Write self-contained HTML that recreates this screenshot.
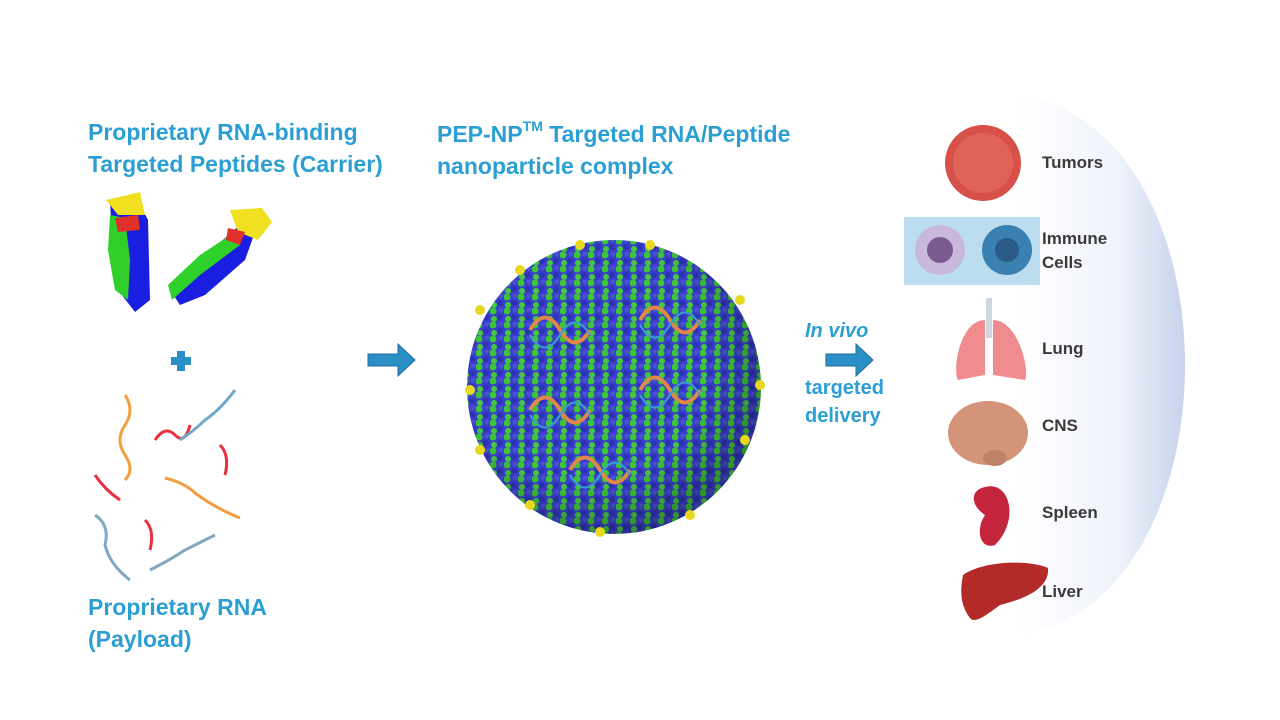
<!DOCTYPE html>
<html><head><meta charset="utf-8"><style>
body{margin:0;width:1280px;height:720px;background:#fff;position:relative;overflow:hidden;font-family:"Liberation Sans",sans-serif}
.t{position:absolute;color:#2b9fd3;font-weight:bold;font-size:23px;line-height:32px;white-space:nowrap}
.l{position:absolute;color:#3a3a3a;font-weight:bold;font-size:17px;line-height:24px}
svg{position:absolute;left:0;top:0}
sup{font-size:14px;line-height:0;position:relative;top:-2px;vertical-align:super}
</style></head><body>
<svg width="1280" height="720">
<defs>
<linearGradient id="pan" x1="0" x2="1"><stop offset="0" stop-color="#fff"/><stop offset="0.6" stop-color="#eef2fa"/><stop offset="1" stop-color="#c7d3ec"/></linearGradient>
<pattern id="dots" width="14" height="14" patternUnits="userSpaceOnUse">
<rect width="14" height="14" fill="#3a3fc8"/>
<circle cx="3" cy="3" r="3.5" fill="#3cc43a"/><circle cx="10" cy="9" r="3" fill="#2b33b8"/><circle cx="11" cy="2" r="2.5" fill="#4a50d8"/><circle cx="4" cy="11" r="3" fill="#45c840"/>
</pattern>
<radialGradient id="sh" cx="0.4" cy="0.4" r="0.6"><stop offset="0.7" stop-color="#000" stop-opacity="0"/><stop offset="1" stop-color="#000" stop-opacity="0.25"/></radialGradient>
</defs>
<path d="M1020 95 C1240 130 1240 600 1020 635 L1020 95Z" fill="url(#pan)"/>
<rect x="904" y="217" width="136" height="68" fill="#bcdcf0"/>
<g>
<path d="M110 200 L135 195 L148 220 L150 300 L135 312 L118 290 L112 240Z" fill="#1a1ee0"/>
<path d="M110 215 L125 218 L130 260 L128 300 L115 290 L108 250Z" fill="#2fd02a"/>
<path d="M106 200 L140 192 L145 215 L118 215Z" fill="#f0e020"/>
<path d="M115 218 L138 215 L140 230 L118 232Z" fill="#e0302a"/>
<path d="M170 290 L200 260 L240 225 L255 232 L245 260 L205 295 L180 305Z" fill="#1a1ee0"/>
<path d="M168 285 L200 255 L235 232 L240 245 L200 275 L172 300Z" fill="#2fd02a"/>
<path d="M230 210 L262 208 L272 222 L258 240 L238 232Z" fill="#f0e020"/>
<path d="M228 228 L245 232 L240 245 L226 240Z" fill="#e0302a"/>
</g>
<rect x="171" y="357" width="20" height="8" fill="#2a8fc6"/><rect x="177" y="351" width="8" height="20" fill="#2a8fc6"/>
<g fill="none" stroke-width="3">
<path d="M125 395 q10 15 0 30 q-10 15 0 30 q10 15 0 25" stroke="#f0a040"/>
<path d="M155 440 q10 -15 20 -5 q10 10 15 -10" stroke="#e83040"/>
<path d="M180 440 q15 -10 25 -20 q15 -10 30 -30" stroke="#70a8c8"/>
<path d="M220 445 q10 10 5 30" stroke="#e83040"/>
<path d="M95 475 q10 15 25 25" stroke="#e83040"/>
<path d="M165 478 q20 5 30 15 q20 15 45 25" stroke="#f0a040"/>
<path d="M95 515 q15 10 10 30 q5 20 25 35" stroke="#80a8c0"/>
<path d="M145 520 q10 10 5 30" stroke="#e83040"/>
<path d="M150 570 q20 -10 35 -20 q20 -10 30 -15" stroke="#80a8c0"/>
</g>
<path d="M368 354h30v-10l17 16-17 16v-10h-30z" fill="#2a8fc6" stroke="#1d6a98"/>
<path d="M826 354h30v-10l17 16-17 16v-10h-30z" fill="#2a8fc6" stroke="#1d6a98"/>
<circle cx="614" cy="387" r="147" fill="url(#dots)"/>
<circle cx="614" cy="387" r="147" fill="url(#sh)"/>
<g fill="#e8d820">
<circle cx="480" cy="310" r="5"/><circle cx="470" cy="390" r="5"/><circle cx="480" cy="450" r="5"/><circle cx="530" cy="505" r="5"/><circle cx="600" cy="532" r="5"/><circle cx="690" cy="515" r="5"/><circle cx="745" cy="440" r="5"/><circle cx="760" cy="385" r="5"/><circle cx="740" cy="300" r="5"/><circle cx="650" cy="245" r="5"/><circle cx="580" cy="245" r="5"/><circle cx="520" cy="270" r="5"/>
</g>
<g fill="none" stroke-width="4">
<g stroke="#e0884a"><path d="M530 330 q15 -25 30 0 q15 25 30 0"/><path d="M640 320 q15 -25 30 0 q15 25 30 0"/><path d="M530 410 q15 -25 30 0 q15 25 30 0"/><path d="M640 390 q15 -25 30 0 q15 25 30 0"/><path d="M570 470 q15 -25 30 0 q15 25 30 0"/></g>
<g stroke="#3aa0d0" stroke-width="2"><path d="M530 335 q15 25 30 0 q15 -25 30 0"/><path d="M640 325 q15 25 30 0 q15 -25 30 0"/><path d="M530 415 q15 25 30 0 q15 -25 30 0"/><path d="M640 395 q15 25 30 0 q15 -25 30 0"/><path d="M570 475 q15 25 30 0 q15 -25 30 0"/></g>
</g>
<circle cx="983" cy="163" r="38" fill="#d8504a"/><circle cx="983" cy="163" r="30" fill="#e87060" opacity="0.6"/>
<circle cx="940" cy="250" r="25" fill="#c8b8dc"/><circle cx="940" cy="250" r="13" fill="#7a5a90"/>
<circle cx="1007" cy="250" r="25" fill="#3a80b0"/><circle cx="1007" cy="250" r="12" fill="#2a5a88"/>
<rect x="986" y="298" width="6" height="40" fill="#cfd6e0"/>
<path d="M985 320 C960 320 952 370 958 380 L985 375Z" fill="#f08c90"/>
<path d="M993 320 C1018 320 1030 370 1025 380 L993 375Z" fill="#f08c90"/>
<ellipse cx="988" cy="433" rx="40" ry="32" fill="#d4947a"/><ellipse cx="995" cy="458" rx="12" ry="8" fill="#c0806a"/>
<path d="M985 487 C1010 480 1020 520 995 545 C980 550 975 530 985 515 C970 505 970 490 985 487Z" fill="#c4243c"/>
<path d="M963 575 C985 560 1030 560 1048 568 C1050 590 1020 600 1000 605 C990 612 975 625 970 618 C960 605 960 590 963 575Z" fill="#b42a28"/>
</svg>
<div class="t" style="left:88px;top:116px">Proprietary RNA-binding<br>Targeted Peptides (Carrier)</div>
<div class="t" style="left:437px;top:118px">PEP-NP<sup>TM</sup> Targeted RNA/Peptide<br>nanoparticle complex</div>
<div class="t" style="left:88px;top:591px">Proprietary RNA<br>(Payload)</div>
<div class="t" style="left:805px;top:315px;font-style:italic;font-size:20px">In vivo</div>
<div class="t" style="left:805px;top:374px;font-size:20px;line-height:28px">targeted<br>delivery</div>
<div class="l" style="left:1042px;top:151px">Tumors</div>
<div class="l" style="left:1042px;top:227px">Immune<br>Cells</div>
<div class="l" style="left:1042px;top:337px">Lung</div>
<div class="l" style="left:1042px;top:414px">CNS</div>
<div class="l" style="left:1042px;top:501px">Spleen</div>
<div class="l" style="left:1042px;top:580px">Liver</div>
</body></html>
